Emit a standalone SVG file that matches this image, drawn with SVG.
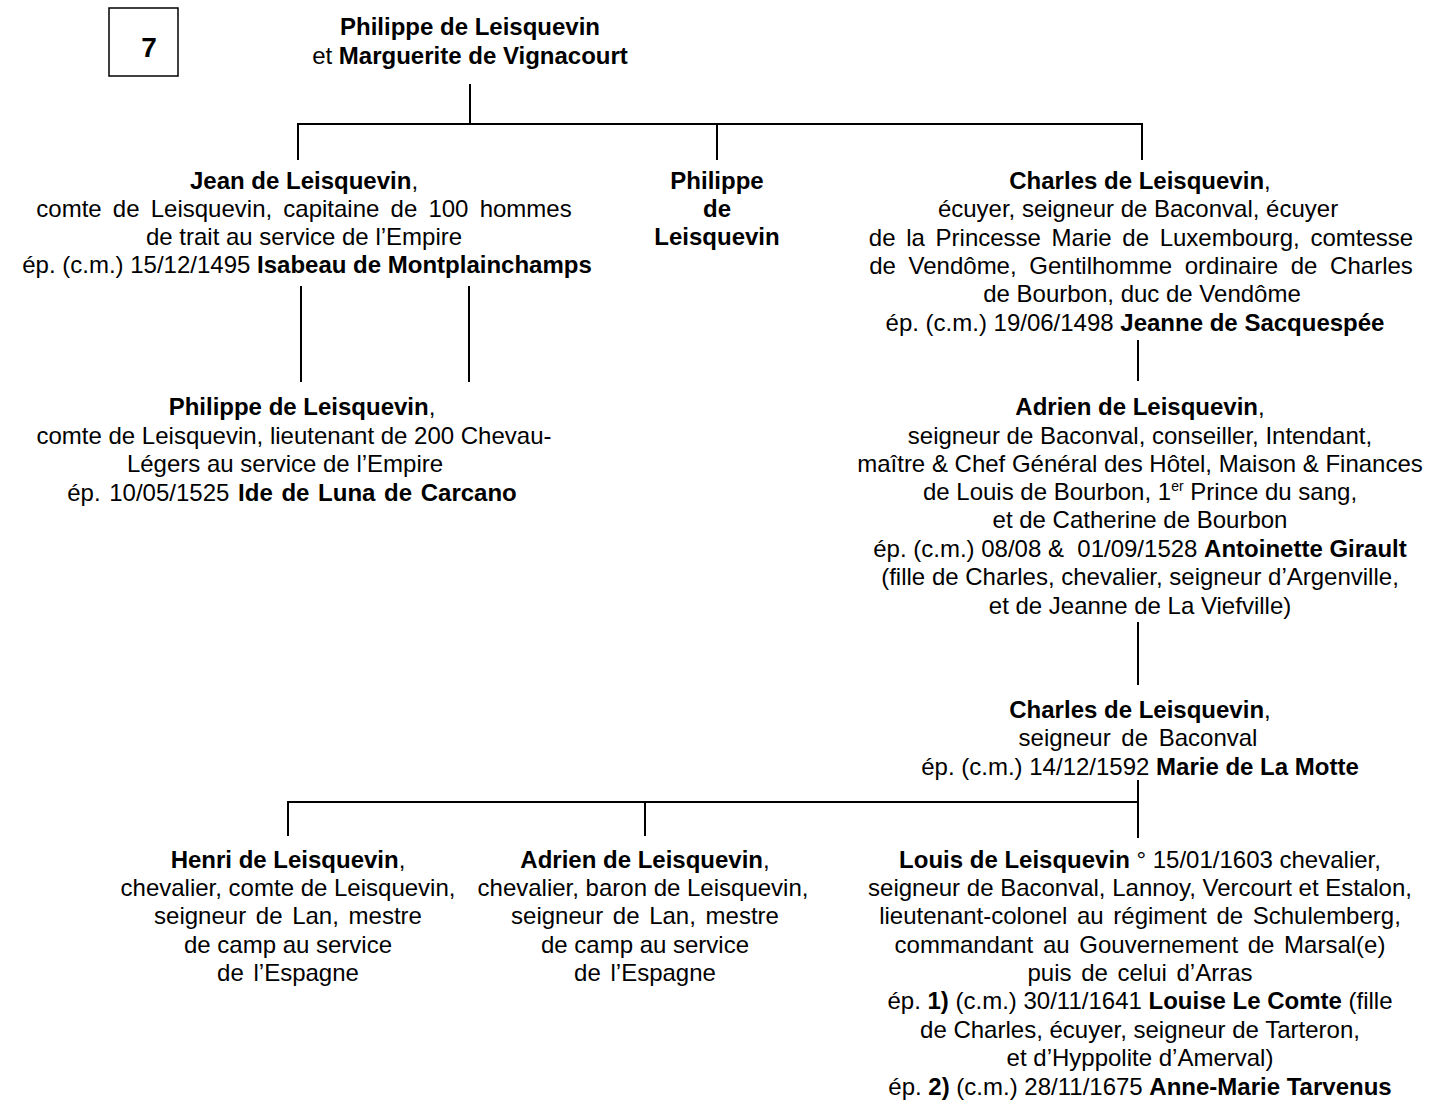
<svg xmlns="http://www.w3.org/2000/svg" width="1449" height="1103" viewBox="0 0 1449 1103">
<style>
text{font-family:"Liberation Sans",Arial,sans-serif;font-size:24px;fill:#000;text-anchor:middle}
.b{font-weight:bold}
.ln{stroke:#000;stroke-width:2;fill:none}
.sup{font-size:14px}
</style>
<rect width="1449" height="1103" fill="#fff"/>
<g id="page-number">
<rect x="109" y="8" width="69" height="68" fill="none" stroke="#000" stroke-width="1.5"/>
<text x="149" y="57" class="b" style="font-size:28px">7</text>
</g>
<g id="connectors">
<line class="ln" x1="470" y1="84" x2="470" y2="124"/>
<line class="ln" x1="297" y1="124" x2="1143" y2="124"/>
<line class="ln" x1="298" y1="124" x2="298" y2="160"/>
<line class="ln" x1="717" y1="124" x2="717" y2="160"/>
<line class="ln" x1="1142" y1="124" x2="1142" y2="160"/>
<line class="ln" x1="301" y1="286" x2="301" y2="382"/>
<line class="ln" x1="469" y1="286" x2="469" y2="382"/>
<line class="ln" x1="1138" y1="340" x2="1138" y2="381"/>
<line class="ln" x1="1138" y1="622" x2="1138" y2="685"/>
<line class="ln" x1="1138" y1="780" x2="1138" y2="838"/>
<line class="ln" x1="287" y1="802" x2="1139" y2="802"/>
<line class="ln" x1="288" y1="802" x2="288" y2="836"/>
<line class="ln" x1="645" y1="802" x2="645" y2="836"/>
</g>
<g id="n-root">
<text x="470" y="35" class="b">Philippe de Leisquevin</text>
<text x="470" y="64">et <tspan class="b">Marguerite de Vignacourt</tspan></text>
</g>
<g id="n-jean">
<text x="304" y="189"><tspan class="b">Jean de Leisquevin</tspan>,</text>
<text x="304" y="217" word-spacing="4.5">comte de Leisquevin, capitaine de 100 hommes</text>
<text x="304" y="245">de trait au service de l’Empire</text>
<text x="307" y="273">ép. (c.m.) 15/12/1495 <tspan class="b">Isabeau de Montplainchamps</tspan></text>
</g>
<g id="n-philippe-mid">
<text x="717" y="189" class="b">Philippe</text>
<text x="717" y="217" class="b">de</text>
<text x="717" y="245" class="b">Leisquevin</text>
</g>
<g id="n-charles">
<text x="1140" y="189"><tspan class="b">Charles de Leisquevin</tspan>,</text>
<text x="1138" y="217">écuyer, seigneur de Baconval, écuyer</text>
<text x="1141" y="246" word-spacing="4">de la Princesse Marie de Luxembourg, comtesse</text>
<text x="1141" y="274" word-spacing="6">de Vendôme, Gentilhomme ordinaire de Charles</text>
<text x="1142" y="302">de Bourbon, duc de Vendôme</text>
<text x="1135" y="331">ép. (c.m.) 19/06/1498 <tspan class="b">Jeanne de Sacquespée</tspan></text>
</g>
<g id="n-philippe-son">
<text x="302" y="415"><tspan class="b">Philippe de Leisquevin</tspan>,</text>
<text x="294" y="444">comte de Leisquevin, lieutenant de 200 Chevau-</text>
<text x="285" y="472">Légers au service de l’Empire</text>
<text x="292" y="501" word-spacing="2">ép. 10/05/1525 <tspan class="b">Ide de Luna de Carcano</tspan></text>
</g>
<g id="n-adrien">
<text x="1140" y="415"><tspan class="b">Adrien de Leisquevin</tspan>,</text>
<text x="1140" y="444">seigneur de Baconval, conseiller, Intendant,</text>
<text x="1140" y="472">maître &amp; Chef Général des Hôtel, Maison &amp; Finances</text>
<text x="1140" y="500">de Louis de Bourbon, 1<tspan class="sup" dy="-9">er</tspan><tspan dy="9"> Prince du sang,</tspan></text>
<text x="1140" y="528">et de Catherine de Bourbon</text>
<text x="1140" y="557">ép. (c.m.) 08/08 &amp;&#160; 01/09/1528 <tspan class="b">Antoinette Girault</tspan></text>
<text x="1140" y="585">(fille de Charles, chevalier, seigneur d’Argenville,</text>
<text x="1140" y="614">et de Jeanne de La Viefville)</text>
</g>
<g id="n-charles2">
<text x="1140" y="718"><tspan class="b">Charles de Leisquevin</tspan>,</text>
<text x="1138" y="746" word-spacing="4">seigneur de Baconval</text>
<text x="1140" y="775">ép. (c.m.) 14/12/1592 <tspan class="b">Marie de La Motte</tspan></text>
</g>
<g id="n-henri">
<text x="288" y="868"><tspan class="b">Henri de Leisquevin</tspan>,</text>
<text x="288" y="896">chevalier, comte de Leisquevin,</text>
<text x="288" y="924" word-spacing="3">seigneur de Lan, mestre</text>
<text x="288" y="953">de camp au service</text>
<text x="288" y="981" word-spacing="3">de l’Espagne</text>
</g>
<g id="n-adrien2">
<text x="645" y="868"><tspan class="b">Adrien de Leisquevin</tspan>,</text>
<text x="643" y="896">chevalier, baron de Leisquevin,</text>
<text x="645" y="924" word-spacing="3">seigneur de Lan, mestre</text>
<text x="645" y="953">de camp au service</text>
<text x="645" y="981" word-spacing="3">de l’Espagne</text>
</g>
<g id="n-louis">
<text x="1140" y="868"><tspan class="b">Louis de Leisquevin</tspan> ° 15/01/1603 chevalier,</text>
<text x="1140" y="896">seigneur de Baconval, Lannoy, Vercourt et Estalon,</text>
<text x="1140" y="924" word-spacing="3">lieutenant-colonel au régiment de Schulemberg,</text>
<text x="1140" y="953" word-spacing="3">commandant au Gouvernement de Marsal(e)</text>
<text x="1140" y="981" word-spacing="3">puis de celui d’Arras</text>
<text x="1140" y="1009">ép. <tspan class="b">1)</tspan> (c.m.) 30/11/1641 <tspan class="b">Louise Le Comte</tspan> (fille</text>
<text x="1140" y="1038">de Charles, écuyer, seigneur de Tarteron,</text>
<text x="1140" y="1066">et d’Hyppolite d’Amerval)</text>
<text x="1140" y="1095">ép. <tspan class="b">2)</tspan> (c.m.) 28/11/1675 <tspan class="b">Anne-Marie Tarvenus</tspan></text>
</g>
</svg>
